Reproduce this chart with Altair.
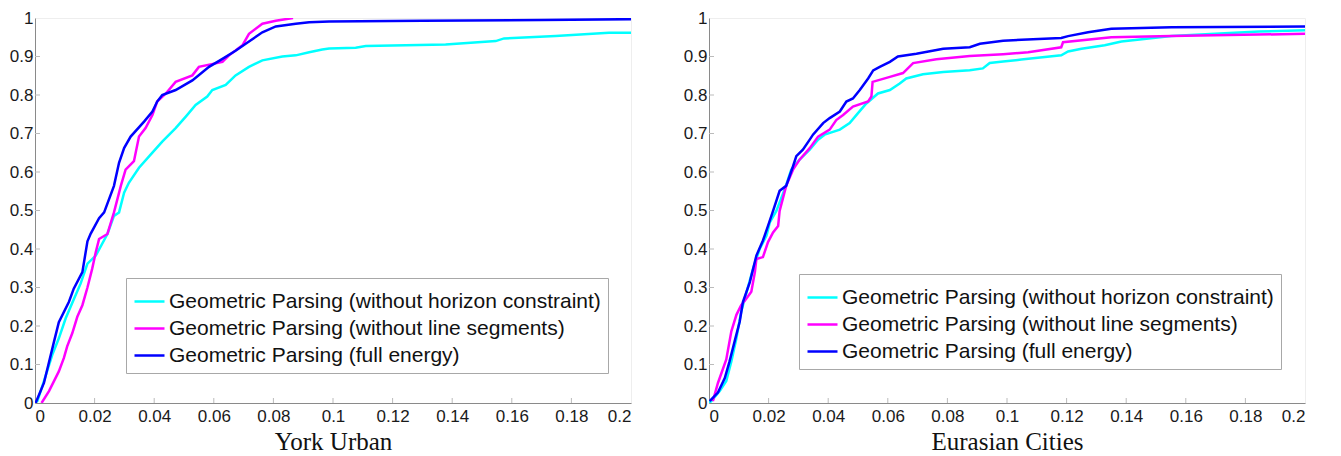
import altair as alt
import pandas as pd

SERIES = [
    "Geometric Parsing (without horizon constraint)",
    "Geometric Parsing (without line segments)",
    "Geometric Parsing (full energy)",
]
COLORS = ["#00FFFF", "#FF00FF", "#0000FF"]

X_TICKS = [0, 0.02, 0.04, 0.06, 0.08, 0.1, 0.12, 0.14, 0.16, 0.18, 0.2]
Y_TICKS = [0, 0.1, 0.2, 0.3, 0.4, 0.5, 0.6, 0.7, 0.8, 0.9, 1]

# ---- York Urban ----
york_cyan_x = [0.0, 0.0008, 0.003, 0.0058, 0.008, 0.0103, 0.0131, 0.0153, 0.0176, 0.0204, 0.0243, 0.0265,
               0.0282, 0.0299, 0.0315, 0.0349, 0.0388, 0.0427, 0.0472, 0.0506, 0.0539, 0.0578, 0.0595,
               0.064, 0.0673, 0.0718, 0.0763, 0.083, 0.0875, 0.092, 0.0964, 0.0987, 0.1076, 0.111,
               0.1378, 0.1546, 0.1574, 0.1747, 0.1926, 0.2]
york_cyan_y = [0.0, 0.005, 0.057, 0.125, 0.168, 0.22, 0.271, 0.31, 0.362, 0.383, 0.439, 0.486,
               0.495, 0.546, 0.572, 0.611, 0.645, 0.679, 0.714, 0.744, 0.774, 0.796, 0.813,
               0.826, 0.851, 0.873, 0.89, 0.90, 0.903, 0.911, 0.918, 0.921, 0.923, 0.927,
               0.931, 0.94, 0.947, 0.953, 0.962, 0.962]
york_mag_x = [0.0022, 0.0047, 0.008, 0.0097, 0.0108, 0.0125, 0.0142, 0.0159, 0.0176, 0.0192, 0.0204,
              0.0215, 0.0243, 0.0265, 0.0288, 0.0304, 0.0332, 0.0349, 0.0371, 0.0394, 0.041, 0.0439,
              0.0472, 0.0528, 0.055, 0.0629, 0.0651, 0.0696, 0.0718, 0.0763, 0.0808, 0.0866]
york_mag_y = [0.0, 0.031, 0.082, 0.117, 0.147, 0.181, 0.224, 0.254, 0.30, 0.349, 0.392,
              0.426, 0.439, 0.495, 0.564, 0.606, 0.628, 0.692, 0.714, 0.748, 0.783, 0.804,
              0.834, 0.851, 0.873, 0.886, 0.903, 0.929, 0.959, 0.985, 0.993, 1.0]
york_blue_x = [0.0002, 0.003, 0.0064, 0.008, 0.0114, 0.013, 0.0159, 0.0176, 0.0187, 0.0215, 0.0232,
               0.0265, 0.0282, 0.0299, 0.0321, 0.0366, 0.0394, 0.041, 0.0427, 0.0472, 0.0528, 0.0584,
               0.0629, 0.0673, 0.0707, 0.0763, 0.0808, 0.0875, 0.092, 0.0987, 0.13, 0.17, 0.2]
york_blue_y = [0.0, 0.052, 0.16, 0.21, 0.263, 0.297, 0.34, 0.42, 0.44, 0.48, 0.495,
               0.564, 0.624, 0.662, 0.692, 0.731, 0.757, 0.783, 0.80, 0.813, 0.838, 0.873,
               0.894, 0.915, 0.933, 0.963, 0.978, 0.985, 0.989, 0.991, 0.993, 0.995, 0.997]

# ---- Eurasian Cities ----
eur_cyan_x = [0.0, 0.0008, 0.0036, 0.0058, 0.0075, 0.0092, 0.0108, 0.012, 0.0148, 0.017, 0.0193, 0.0204,
              0.0226, 0.0254, 0.0276, 0.0304, 0.0338, 0.0366, 0.0388, 0.0439, 0.0472, 0.05, 0.0528,
              0.0567, 0.0607, 0.064, 0.0662, 0.0718, 0.0786, 0.0875, 0.0919, 0.0942, 0.0987, 0.1048,
              0.1182, 0.1205, 0.125, 0.1328, 0.1384, 0.1552, 0.1698, 0.1846, 0.2]
eur_cyan_y = [0.0, 0.005, 0.031, 0.057, 0.108, 0.168, 0.237, 0.271, 0.349, 0.40, 0.435, 0.469,
              0.499, 0.555, 0.606, 0.632, 0.658, 0.684, 0.697, 0.71, 0.727, 0.753, 0.778,
              0.804, 0.813, 0.83, 0.843, 0.854, 0.86, 0.864, 0.869, 0.883, 0.887, 0.892,
              0.903, 0.913, 0.92, 0.929, 0.939, 0.953, 0.959, 0.965, 0.968]
eur_mag_x = [0.0013, 0.003, 0.0058, 0.0075, 0.0092, 0.0108, 0.0125, 0.0142, 0.0154, 0.0159, 0.0181,
             0.0198, 0.0215, 0.0232, 0.0237, 0.0259, 0.0282, 0.0304, 0.0338, 0.0366, 0.0405, 0.0427,
             0.045, 0.0483, 0.0534, 0.0545, 0.0549, 0.0607, 0.0651, 0.0685, 0.0763, 0.0875, 0.0987,
             0.1071, 0.1182, 0.1188, 0.135, 0.1552, 0.2]
eur_mag_y = [0.005, 0.052, 0.113, 0.186, 0.229, 0.254, 0.271, 0.289, 0.34, 0.374, 0.379,
             0.418, 0.443, 0.46, 0.499, 0.564, 0.606, 0.632, 0.662, 0.692, 0.71, 0.735,
             0.748, 0.77, 0.783, 0.796, 0.834, 0.847, 0.857, 0.883, 0.893, 0.901, 0.906,
             0.911, 0.924, 0.937, 0.95, 0.953, 0.959]
eur_blue_x = [0.0002, 0.003, 0.0053, 0.0069, 0.0086, 0.0103, 0.0114, 0.0137, 0.0159, 0.0181, 0.0198,
              0.0215, 0.0237, 0.0259, 0.0282, 0.0293, 0.0315, 0.0338, 0.0349, 0.0383, 0.0405, 0.0439,
              0.0461, 0.0483, 0.0506, 0.0534, 0.0551, 0.0573, 0.0607, 0.0634, 0.0696, 0.0786, 0.0875,
              0.0909, 0.0987, 0.1182, 0.1205, 0.1272, 0.135, 0.1552, 0.2]
eur_blue_y = [0.005, 0.027, 0.065, 0.108, 0.16, 0.211, 0.263, 0.314, 0.383, 0.422, 0.46,
              0.499, 0.551, 0.564, 0.615, 0.641, 0.658, 0.684, 0.697, 0.727, 0.74, 0.757,
              0.783, 0.791, 0.813, 0.843, 0.864, 0.873, 0.886, 0.90, 0.907, 0.92, 0.924,
              0.933, 0.941, 0.948, 0.953, 0.963, 0.972, 0.976, 0.978]


def frame(xs_ys):
    rows = []
    for name, (xs, ys) in zip(SERIES, xs_ys):
        for i, (a, b) in enumerate(zip(xs, ys)):
            rows.append({"series": name, "x": a, "y": b, "i": i})
    return pd.DataFrame(rows)


W, H = 596, 385
TICK_LEN = 5


def panel(df, title, lx, ly):
    x_enc = alt.X("x:Q", scale=alt.Scale(domain=[0, 0.2], nice=False),
                  axis=alt.Axis(values=X_TICKS, format="~g", title=title, ticks=False,
                                labelPadding=5, grid=False, labelOverlap=False))
    y_enc = alt.Y("y:Q", scale=alt.Scale(domain=[0, 1], nice=False),
                  axis=alt.Axis(values=Y_TICKS, format="~g", title=None, ticks=False,
                                labelPadding=2, grid=False, labelOverlap=False,
                                minExtent=28, maxExtent=28))
    layers = []
    for name in SERIES:
        layers.append(
            alt.Chart(df).transform_filter(alt.datum.series == name)
            .mark_line(strokeWidth=2.5, clip=True)
            .encode(
                x=x_enc, y=y_enc, order="i:Q",
                color=alt.Color("series:N",
                                scale=alt.Scale(domain=SERIES, range=COLORS),
                                legend=alt.Legend(
                                    title=None, orient="none", legendX=lx, legendY=ly,
                                    symbolType="stroke", symbolSize=900, symbolStrokeWidth=2.5,
                                    labelFontSize=21, labelFont="Liberation Sans",
                                    labelColor="#111", labelLimit=1000, labelOffset=3,
                                    strokeColor="#a8a8a8", fillColor="white", padding=7,
                                    rowPadding=-6)),
            )
        )
    xt = pd.DataFrame({"x": X_TICKS[1:-1]})
    yt = pd.DataFrame({"y": Y_TICKS[1:-1]})
    xticks = alt.Chart(xt).mark_rule(color="#bbbbbb", strokeWidth=1).encode(
        x=x_enc, y=alt.value(H), y2=alt.value(H - TICK_LEN))
    yticks = alt.Chart(yt).mark_rule(color="#bbbbbb", strokeWidth=1).encode(
        y=y_enc, x=alt.value(0), x2=alt.value(TICK_LEN))
    return alt.layer(*layers, xticks, yticks).properties(width=W, height=H)


left = panel(frame([(york_cyan_x, york_cyan_y), (york_mag_x, york_mag_y), (york_blue_x, york_blue_y)]),
             "York Urban", 91, 260)
right = panel(frame([(eur_cyan_x, eur_cyan_y), (eur_mag_x, eur_mag_y), (eur_blue_x, eur_blue_y)]),
              "Eurasian Cities", 90, 256)

chart = (
    alt.hconcat(left, right, spacing=48)
    .resolve_scale(color="independent")
    .properties(padding={"left": -2, "top": 0, "right": 0, "bottom": 0}, background="white")
    .configure_view(stroke="#eeeeee", strokeWidth=1)
    .configure_axis(
        domainColor="#8a8a8a", domainWidth=1,
        labelFont="Liberation Sans", labelFontSize=17, labelColor="#1a1a1a",
        titleFont="Liberation Serif", titleFontSize=25, titleFontWeight="normal",
        titleColor="#111", titlePadding=5,
    )
)

chart.save("out.html", embed_options={"renderer": "svg", "actions": False})
